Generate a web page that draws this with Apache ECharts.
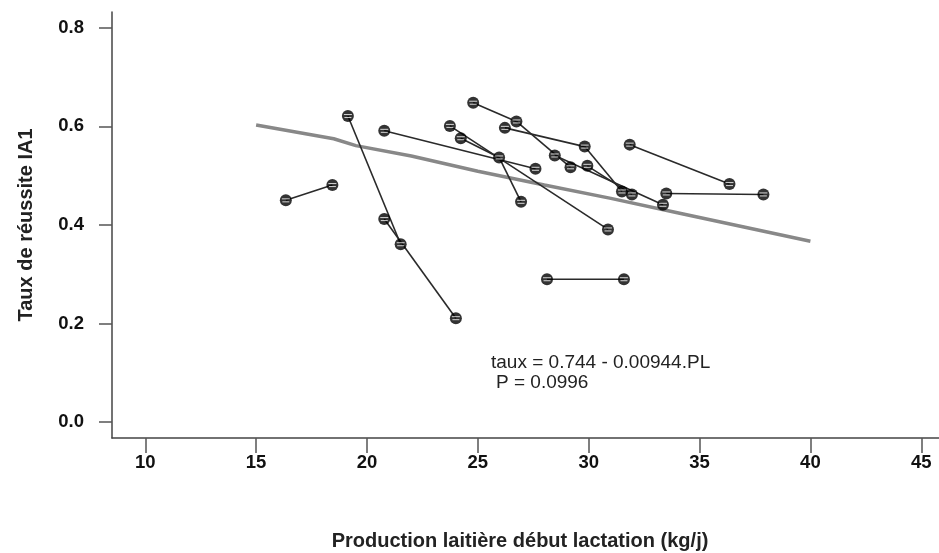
<!DOCTYPE html>
<html>
<head>
<meta charset="utf-8">
<script src="https://cdn.jsdelivr.net/npm/echarts@6/dist/echarts.min.js"></script>
<style>
html,body{margin:0;padding:0;background:#fff;}
#chart{width:939px;height:553px;}
</style>
</head>
<body>
<div id="chart"></div>
<script>
// Herd observations: production (kg/j) and taux de réussite IA1
const pointX = [16.34, 18.44, 19.14, 20.78, 21.52, 24.01, 20.78, 23.74, 24.23, 24.79,
                26.74, 26.22, 25.96, 27.60, 26.95, 28.47, 29.82, 29.18, 29.94, 31.85,
                31.50, 31.95, 33.50, 33.35, 30.87, 28.12, 31.59, 36.35, 37.88];
const pointY = [0.450, 0.481, 0.621, 0.412, 0.361, 0.211, 0.591, 0.601, 0.576, 0.648,
                0.610, 0.597, 0.537, 0.514, 0.447, 0.541, 0.559, 0.517, 0.520, 0.563,
                0.468, 0.462, 0.464, 0.441, 0.391, 0.290, 0.290, 0.483, 0.462];
// segments joining observations (indices into the point arrays)
const segFrom = [0, 2, 3, 6, 7, 8, 12, 9, 10, 15, 11, 16, 18, 19, 22, 25];
const segTo   = [1, 4, 5, 13, 24, 12, 14, 10, 17, 23, 16, 20, 21, 27, 28, 26];
// fitted line taux = 0.744 - 0.00944.PL (as drawn)
const fitX = [15, 18.5, 19.5, 22, 25, 28, 31, 34, 37, 40];
const fitY = [0.603, 0.575, 0.561, 0.540, 0.509, 0.481, 0.454, 0.425, 0.396, 0.367];
// axis ticks
const xTicks = [10, 15, 20, 25, 30, 35, 40, 45];
const yTicks = [0, 0.2, 0.4, 0.6, 0.8];

const pts = pointX.map((x, i) => [x, pointY[i]]);
const segSeries = segFrom.map((a, k) => ({
  type: 'line',
  data: [pts[a], pts[segTo[k]]],
  symbol: 'none',
  silent: true,
  z: 3,
  lineStyle: { color: '#2a2a2a', width: 1.6 },
  animation: false
}));

const FONT = 'Liberation Sans, Arial, sans-serif';
const chart = echarts.init(document.getElementById('chart'));
chart.setOption({
  backgroundColor: '#fff',
  animation: false,
  grid: { left: 112, top: 12, right: 0, bottom: 115 },
  xAxis: {
    type: 'value', min: 8.5, max: 45.8,
    splitLine: { show: false },
    axisLine: { onZero: false, lineStyle: { color: '#444', width: 1.5 } },
    axisTick: { customValues: xTicks, length: 15, lineStyle: { color: '#555', width: 1.5 } },
    axisLabel: { customValues: xTicks, margin: 15, fontSize: 18.5, fontWeight: 'bold',
                 color: '#111', fontFamily: FONT }
  },
  yAxis: {
    type: 'value', min: -0.032, max: 0.832,
    splitLine: { show: false },
    axisLine: { onZero: false, lineStyle: { color: '#444', width: 1.5 } },
    axisTick: { customValues: yTicks, length: 13, lineStyle: { color: '#555', width: 1.5 } },
    axisLabel: { customValues: yTicks, margin: 28, fontSize: 18.5, fontWeight: 'bold',
                 color: '#111', fontFamily: FONT,
                 formatter: v => v.toFixed(1) },
    name: 'Taux de réussite IA1', nameLocation: 'middle', nameGap: 76, nameRotate: 90,
    nameTextStyle: { fontSize: 20, fontWeight: 'bold', color: '#222', fontFamily: FONT }
  },
  graphic: [
    { type: 'text', x: 520, y: 541,
      style: { text: 'Production laitière début lactation (kg/j)', fontSize: 20, fontWeight: 'bold',
               fill: '#222', fontFamily: FONT, align: 'center', verticalAlign: 'middle' } },
    { type: 'text', x: 491, y: 363,
      style: { text: 'taux = 0.744 - 0.00944.PL', fontSize: 19, fill: '#222',
               fontFamily: FONT, align: 'left', verticalAlign: 'middle' } },
    { type: 'text', x: 496, y: 383,
      style: { text: 'P = 0.0996', fontSize: 19, fill: '#222',
               fontFamily: FONT, align: 'left', verticalAlign: 'middle' } }
  ],
  series: [
    {
      type: 'line', data: fitX.map((x, i) => [x, fitY[i]]), symbol: 'none', silent: true, z: 2,
      lineStyle: { color: '#888', width: 3.5 }
    },
    ...segSeries,
    {
      type: 'scatter', data: pts, symbol: 'circle', symbolSize: 12, z: 5, silent: true,
      itemStyle: { color: '#000' }
    },
    {
      type: 'scatter', data: pts, symbol: 'rect', symbolSize: [8, 1], symbolOffset: [0, -1.5],
      z: 6, silent: true, itemStyle: { color: '#fff' }
    },
    {
      type: 'scatter', data: pts, symbol: 'rect', symbolSize: [7, 1], symbolOffset: [0, 1.5],
      z: 6, silent: true, itemStyle: { color: '#fff' }
    }
  ]
});
</script>
</body>
</html>
